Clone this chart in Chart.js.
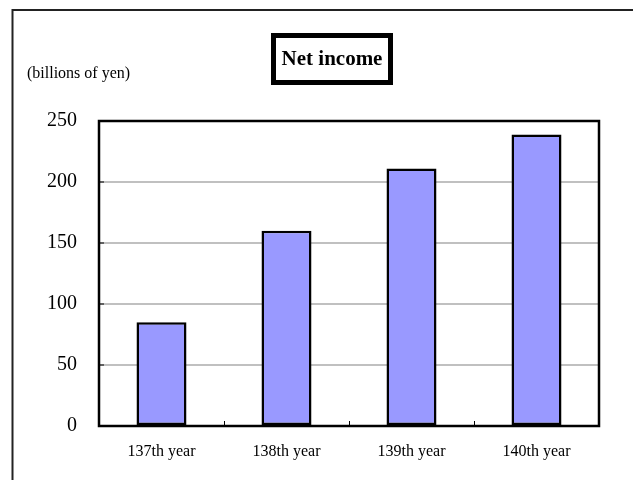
<!DOCTYPE html>
<html>
<head>
<meta charset="utf-8">
<title>Net income</title>
<script src="https://cdn.jsdelivr.net/npm/chart.js@4.4.1/dist/chart.umd.min.js"></script>
<style>
  html, body { margin: 0; padding: 0; background: #fff; }
  #wrap { width: 633px; height: 480px; }
</style>
</head>
<body>
<div id="wrap"><canvas id="netIncomeChart" width="633" height="480"></canvas></div>
<script>
// data
const YEARS = ["137th year", "138th year", "139th year", "140th year"];
const NET_INCOME = [85, 160, 211, 239];
const Y_MIN = 0;
const Y_MAX = 250;
const Y_STEP = 50;
const CHART_TITLE = "Net income";
const UNIT_LABEL = "(billions of yen)";

const SERIF = "'Liberation Serif', 'Times New Roman', serif";

// outer frame, unit label, boxed title, plot frame and inward ticks
const frameAndLabels = {
  id: "frameAndLabels",
  beforeDraw(chart) {
    const ctx = chart.ctx;
    ctx.save();
    ctx.fillStyle = "#fff";
    ctx.fillRect(0, 0, chart.width, chart.height);

    ctx.strokeStyle = "#222";
    ctx.lineWidth = 2;
    ctx.strokeRect(12.5, 10, chart.width + 40, chart.height + 40);

    ctx.fillStyle = "#000";
    ctx.font = "16px " + SERIF;
    ctx.textAlign = "left";
    ctx.textBaseline = "alphabetic";
    ctx.fillText(UNIT_LABEL, 27, 78);

    ctx.strokeStyle = "#000";
    ctx.lineWidth = 5;
    ctx.strokeRect(273.5, 35.5, 117, 47);
    ctx.font = "bold 21px " + SERIF;
    ctx.textAlign = "center";
    ctx.textBaseline = "middle";
    ctx.fillText(CHART_TITLE, 332, 60);
    ctx.restore();
  },
  afterDatasetsDraw(chart) {
    const { ctx, chartArea: a, scales: { x, y } } = chart;
    ctx.save();
    ctx.strokeStyle = "#000";
    ctx.lineWidth = 1;
    ctx.beginPath();
    for (let i = 1; i < YEARS.length; i++) {
      const px = Math.round((x.getPixelForValue(i - 1) + x.getPixelForValue(i)) / 2) + 0.5;
      ctx.moveTo(px, a.bottom);
      ctx.lineTo(px, a.bottom - 5);
    }
    y.ticks.forEach((t) => {
      const py = y.getPixelForValue(t.value);
      ctx.moveTo(a.left, py);
      ctx.lineTo(a.left + 5, py);
    });
    ctx.stroke();

    ctx.lineWidth = 2.5;
    ctx.strokeRect(a.left, a.top, a.right - a.left, a.bottom - a.top);
    ctx.restore();
  },
};

new Chart(document.getElementById("netIncomeChart"), {
  type: "bar",
  data: {
    labels: YEARS,
    datasets: [{
      label: CHART_TITLE,
      data: NET_INCOME,
      backgroundColor: "#9999ff",
      borderColor: "#000",
      borderWidth: 2.5,
      borderSkipped: false,
      barPercentage: 0.4,
      categoryPercentage: 1,
    }],
  },
  options: {
    responsive: false,
    animation: false,
    layout: { padding: { top: 121, right: 34, left: 0, bottom: 0 } },
    plugins: {
      legend: { display: false },
      tooltip: { enabled: false },
    },
    scales: {
      x: {
        grid: { display: false },
        border: { display: false },
        ticks: { color: "#000", font: { family: SERIF, size: 16 }, padding: 8, maxRotation: 0 },
        afterFit: (s) => { s.height = 54; },
      },
      y: {
        min: Y_MIN,
        max: Y_MAX,
        ticks: { stepSize: Y_STEP, color: "#000", font: { family: SERIF, size: 20 }, padding: 22 },
        grid: { color: "#c0c0c0", lineWidth: 2, drawTicks: false },
        border: { display: false },
        afterFit: (s) => { s.width = 99; },
      },
    },
  },
  plugins: [frameAndLabels],
});
</script>
</body>
</html>
